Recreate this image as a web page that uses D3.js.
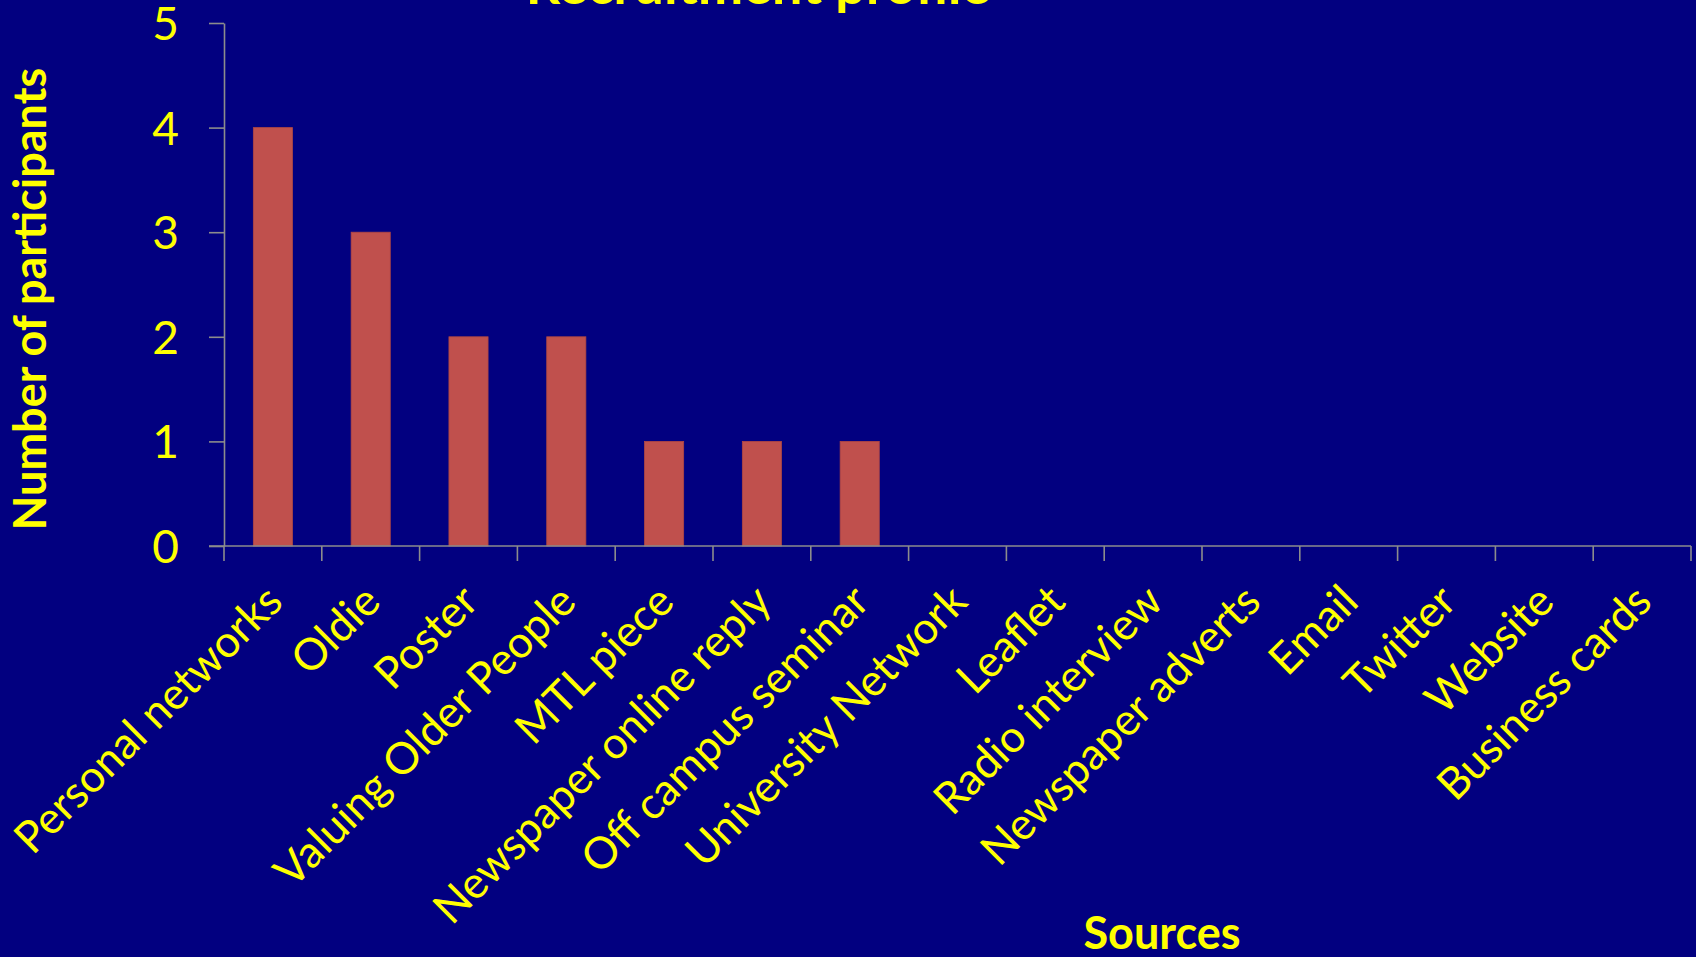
<!DOCTYPE html>
<html>
<head>
<meta charset="utf-8">
<script src="https://cdn.jsdelivr.net/npm/d3@7"></script>
<style>
  body { margin: 0; background: #020080; overflow: hidden; }
  text { font-family: Lato, "Open Sans", sans-serif; fill: #ffff00; }
</style>
</head>
<body>
<script>
//panel size
var w = 1696, h = 957;

//chart data
var sources = ["Personal networks", "Oldie", "Poster", "Valuing Older People", "MTL piece",
    "Newspaper online reply", "Off campus seminar", "University Network", "Leaflet",
    "Radio interview", "Newspaper adverts", "Email", "Twitter", "Website", "Business cards"];
var participants = [4, 3, 2, 2, 1, 1, 1, 0, 0, 0, 0, 0, 0, 0, 0];
var yTicks = [0, 1, 2, 3, 4, 5];

var chartTitle = "Recruitment profile";
var xTitle = "Sources";
var yTitle = "Number of participants";

var svg = d3.select("body")
    .append("svg")
    .attr("width", w)
    .attr("height", h)
    .attr("class", "container")
    .style("background-color", "#020080");

//scales
var x = d3.scaleBand()
    .domain(sources)
    .range([224, 1691]);

var y = d3.scaleLinear()
    .domain([0, 5])
    .range([546, 23]);

var barW = x.bandwidth() * 0.4;

//bars
svg.selectAll(".bar")
    .data(participants)
    .enter()
    .append("rect")
    .attr("class", "bar")
    .attr("x", function(d, i){ return x(sources[i]) + (x.bandwidth() - barW) / 2; })
    .attr("width", barW)
    .attr("y", function(d){ return y(d); })
    .attr("height", function(d){ return y(0) - y(d); })
    .style("fill", "#c0504d")
    .style("stroke", "#b04744")
    .style("stroke-width", 0.8);

//y axis
var yAxis = svg.append("g")
    .attr("class", "axis")
    .attr("transform", "translate(224,0)")
    .call(d3.axisLeft(y).tickValues(yTicks).tickSize(15).tickSizeOuter(0).tickPadding(30).tickFormat(d3.format("d")));

//x axis, ticks at band edges
var xAxis = svg.append("g")
    .attr("class", "axis")
    .attr("transform", "translate(0," + y(0) + ")");

xAxis.append("line")
    .attr("x1", 209)
    .attr("x2", x.range()[1])
    .attr("y1", 0)
    .attr("y2", 0);

xAxis.selectAll(".xtick")
    .data(sources.concat(["end"]))
    .enter()
    .append("line")
    .attr("class", "xtick")
    .attr("x1", function(d, i){ return x.range()[0] + i * x.step(); })
    .attr("x2", function(d, i){ return x.range()[0] + i * x.step(); })
    .attr("y1", 0)
    .attr("y2", 15);

svg.selectAll(".axis line, .axis path")
    .style("stroke", "#8c8c8c")
    .style("stroke-width", 1.6);

yAxis.selectAll("text")
    .style("font-size", "46px")
    .attr("dy", "0.36em");

//rotated category labels
svg.selectAll(".xlabel")
    .data(sources)
    .enter()
    .append("text")
    .attr("class", "xlabel")
    .attr("text-anchor", "end")
    .attr("transform", function(d){
        return "translate(" + (x(d) + x.bandwidth() / 2 + 12) + ",604) rotate(-45)";
    })
    .style("font-size", "44px")
    .text(function(d){ return d; });

//titles
svg.append("text")
    .attr("class", "title")
    .attr("text-anchor", "middle")
    .attr("x", 758)
    .attr("y", 4)
    .style("font-size", "54px")
    .style("font-weight", "bold")
    .text(chartTitle);

svg.append("text")
    .attr("text-anchor", "middle")
    .attr("x", 1162)
    .attr("y", 949)
    .style("font-size", "45px")
    .style("font-weight", "bold")
    .text(xTitle);

svg.append("text")
    .attr("text-anchor", "middle")
    .attr("transform", "translate(46,299) rotate(-90)")
    .style("font-size", "45px")
    .style("font-weight", "bold")
    .text(yTitle);
</script>
</body>
</html>
